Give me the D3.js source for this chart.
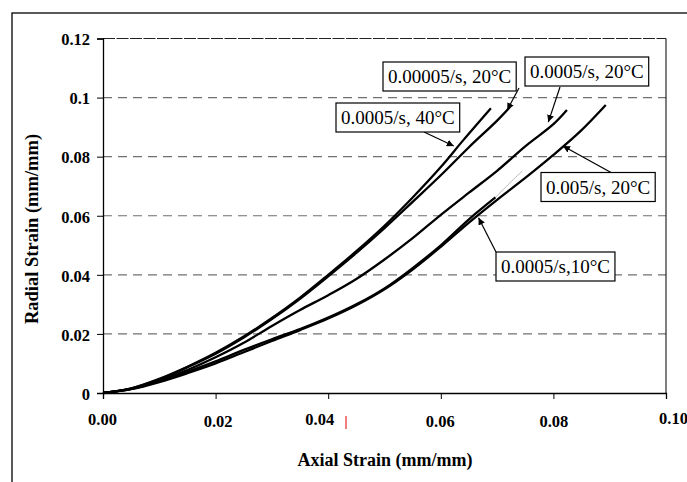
<!DOCTYPE html>
<html>
<head>
<meta charset="utf-8">
<script src="https://cdn.jsdelivr.net/npm/d3@7"></script>
<style>
  body { margin: 0; background: #fff; }
  svg { display: block; }
  text { font-family: "Liberation Serif", "Times New Roman", serif; }
</style>
</head>
<body>
<svg id="chart" width="687" height="482"></svg>
<script>
// tick values and labels
const xTicks = [0, 0.02, 0.04, 0.06, 0.08, 0.10];
const xTickLabels = ["0.00", "0.02", "0.04", "0.06", "0.08", "0.10"];
const yTicks = [0, 0.02, 0.04, 0.06, 0.08, 0.10, 0.12];
const yTickLabels = ["0", "0.02", "0.04", "0.06", "0.08", "0.1", "0.12"];

// series: [axial strain, radial strain]
const rate00005_20C = [
    [0, 0], [0.005, 0.0015], [0.010, 0.0046], [0.015, 0.0087], [0.020, 0.0133],
    [0.025, 0.0188], [0.030, 0.0250], [0.035, 0.0319], [0.040, 0.0395],
    [0.045, 0.0474], [0.050, 0.0558], [0.055, 0.0647], [0.060, 0.0737],
    [0.065, 0.0832], [0.070, 0.0922], [0.0723, 0.0968]
];
const rate0005_40C = [
    [0, 0], [0.005, 0.0016], [0.010, 0.0048], [0.015, 0.0089], [0.020, 0.0136],
    [0.025, 0.0191], [0.030, 0.0254], [0.035, 0.0323], [0.040, 0.0400],
    [0.045, 0.0480], [0.050, 0.0566], [0.055, 0.0662], [0.060, 0.0765],
    [0.064, 0.0856], [0.0689, 0.0964]
];
const rate0005_20C = [
    [0, 0], [0.005, 0.0014], [0.010, 0.0042], [0.015, 0.0078], [0.020, 0.0121],
    [0.025, 0.0170], [0.030, 0.0227], [0.035, 0.0281], [0.040, 0.0331],
    [0.045, 0.0386], [0.050, 0.0452], [0.055, 0.0524], [0.060, 0.0603],
    [0.065, 0.0678], [0.070, 0.0752], [0.075, 0.0835], [0.080, 0.0910],
    [0.0824, 0.0958]
];
const rate005_20C = [
    [0, 0], [0.005, 0.0013], [0.010, 0.0037], [0.015, 0.0067], [0.020, 0.0100],
    [0.025, 0.0138], [0.030, 0.0176], [0.035, 0.0213], [0.040, 0.0252],
    [0.045, 0.0297], [0.050, 0.0351], [0.055, 0.0418], [0.060, 0.0495],
    [0.065, 0.0577], [0.070, 0.0654], [0.075, 0.0728], [0.080, 0.0806],
    [0.085, 0.0890], [0.0893, 0.0975]
];
const rate0005_10C = [
    [0, 0], [0.005, 0.0014], [0.010, 0.0040], [0.015, 0.0072], [0.020, 0.0107],
    [0.025, 0.0146], [0.030, 0.0182], [0.035, 0.0216], [0.040, 0.0255],
    [0.045, 0.0300], [0.050, 0.0354], [0.055, 0.0423], [0.060, 0.0500],
    [0.065, 0.0588], [0.0697, 0.0662]
];
// faint grey trace continuing past the end of the 10°C curve
const rate0005_10C_tail = [[0.0697, 0.0662], [0.0722, 0.0710], [0.0745, 0.0752]];

const seriesList = [rate005_20C, rate0005_10C, rate0005_20C, rate00005_20C, rate0005_40C];

// callout texts and the point on the curve each arrow points at
const calloutTexts = ["0.00005/s, 20°C", "0.0005/s, 40°C", "0.0005/s, 20°C", "0.005/s, 20°C", "0.0005/s,10°C"];
const calloutTargets = [[0.0718, 0.0958], [0.0623, 0.0836], [0.0791, 0.0917], [0.0817, 0.0836], [0.0667, 0.0593]];

const svg = d3.select("#chart");

const margin = { left: 103, right: 666, top: 38.5, bottom: 393 };

const x = d3.scaleLinear().domain([0, 0.10]).range([margin.left, margin.right]);
const y = d3.scaleLinear().domain([0, 0.12]).range([margin.bottom, margin.top]);

// outer frame (right and bottom edges fall outside the picture)
svg.append("rect")
    .attr("x", 12).attr("y", 13)
    .attr("width", 700).attr("height", 500)
    .attr("fill", "none")
    .attr("stroke", "#000")
    .attr("stroke-width", 1.3);

// dashed gridlines
svg.append("g")
    .selectAll("line")
    .data(yTicks.filter(d => d > 0 && d < 0.12))
    .enter().append("line")
    .attr("x1", margin.left).attr("x2", margin.right)
    .attr("y1", d => y(d)).attr("y2", d => y(d))
    .attr("stroke", "#707070")
    .attr("stroke-width", 1.2)
    .attr("stroke-dasharray", "9,6");

// plot border, top and right
svg.append("line")
    .attr("x1", margin.left).attr("x2", margin.right)
    .attr("y1", margin.top).attr("y2", margin.top)
    .attr("stroke", "#222").attr("stroke-width", 1.1)
    .attr("stroke-dasharray", "12,1.5");
svg.append("line")
    .attr("x1", margin.right).attr("x2", margin.right)
    .attr("y1", margin.top).attr("y2", margin.bottom)
    .attr("stroke", "#000").attr("stroke-width", 1);

// axes
const xAxis = d3.axisBottom(x)
    .tickValues(xTicks)
    .tickFormat((d, i) => xTickLabels[i])
    .tickSize(6)
    .tickPadding(20);
const yAxis = d3.axisLeft(y)
    .tickValues(yTicks)
    .tickFormat((d, i) => yTickLabels[i])
    .tickSize(6)
    .tickPadding(7);

const gx = svg.append("g")
    .attr("transform", `translate(0,${margin.bottom})`)
    .call(xAxis);
const gy = svg.append("g")
    .attr("transform", `translate(${margin.left},0)`)
    .call(yAxis);

[gx, gy].forEach(g => {
    g.select(".domain").attr("stroke", "#000").attr("stroke-width", 1.3);
    g.selectAll(".tick line").attr("stroke", "#000").attr("stroke-width", 1);
    g.selectAll(".tick text")
        .attr("fill", "#000")
        .style("font-family", '"Liberation Serif", "Times New Roman", serif')
        .style("font-weight", "bold")
        .style("font-size", "16.5px");
});
// the original's x labels sit a little unevenly
const xLabelNudge = [[-1, -2], [2, 0], [-9, -2], [-1, 0], [0, 0], [7, -3]];
gx.selectAll(".tick text")
    .attr("dx", (d, i) => xLabelNudge[i][0])
    .attr("dy", (d, i) => 14 + xLabelNudge[i][1])
    .attr("y", 20);
gy.selectAll(".tick text").attr("dy", "0.38em");

// axis titles
svg.append("text")
    .attr("x", 385).attr("y", 466)
    .attr("text-anchor", "middle")
    .style("font-weight", "bold")
    .style("font-size", "18px")
    .text("Axial Strain (mm/mm)");
svg.append("text")
    .attr("transform", "translate(38,229) rotate(-90)")
    .attr("text-anchor", "middle")
    .style("font-weight", "bold")
    .style("font-size", "18.5px")
    .text("Radial Strain (mm/mm)");

// small red mark under the axis in the original
svg.append("line")
    .attr("x1", 346).attr("x2", 346)
    .attr("y1", 416).attr("y2", 429)
    .attr("stroke", "#e00000").attr("stroke-width", 1);

// curves
const line = d3.line()
    .x(d => x(d[0]))
    .y(d => y(d[1]))
    .curve(d3.curveCatmullRom);

svg.append("path")
    .datum(rate0005_10C_tail)
    .attr("d", line)
    .attr("fill", "none")
    .attr("stroke", "#b8b8b8")
    .attr("stroke-width", 1);

svg.append("g")
    .selectAll("path")
    .data(seriesList)
    .enter().append("path")
    .attr("d", line)
    .attr("fill", "none")
    .attr("stroke", "#000")
    .attr("stroke-width", 2.3)
    .attr("stroke-linejoin", "round");

// arrowhead
svg.append("defs").append("marker")
    .attr("id", "arrow")
    .attr("viewBox", "0 0 10 10")
    .attr("refX", 10).attr("refY", 5)
    .attr("markerWidth", 7).attr("markerHeight", 7)
    .attr("markerUnits", "userSpaceOnUse")
    .attr("orient", "auto")
    .append("path")
    .attr("d", "M0,0L10,5L0,10z")
    .attr("fill", "#000");

// callout boxes: top-left corner and where the leader leaves the box
const calloutLayout = [
    { bx: 383, by: 62, sx: 519, sy: 88 },
    { bx: 336, by: 103, sx: 424, sy: 132 },
    { bx: 525, by: 57, sx: 560, sy: 87 },
    { bx: 541, by: 172.5, sx: 611, sy: 172.5 },
    { bx: 496, by: 252, sx: 496, sy: 252 }
];

calloutTexts.forEach((label, i) => {
    const lay = calloutLayout[i];
    const tgt = calloutTargets[i];
    svg.append("line")
        .attr("x1", lay.sx).attr("y1", lay.sy)
        .attr("x2", x(tgt[0])).attr("y2", y(tgt[1]))
        .attr("stroke", "#000")
        .attr("stroke-width", 1.2)
        .attr("marker-end", "url(#arrow)");

    const g = svg.append("g");
    const rect = g.append("rect")
        .attr("fill", "#fff")
        .attr("stroke", "#000")
        .attr("stroke-width", 1.2);
    const t = g.append("text")
        .attr("x", lay.bx + 5)
        .attr("y", lay.by + 21)
        .style("font-size", "19px")
        .text(label);
    const w = t.node().getComputedTextLength();
    rect.attr("x", lay.bx).attr("y", lay.by)
        .attr("width", w + 10).attr("height", 29);
});
</script>
</body>
</html>
